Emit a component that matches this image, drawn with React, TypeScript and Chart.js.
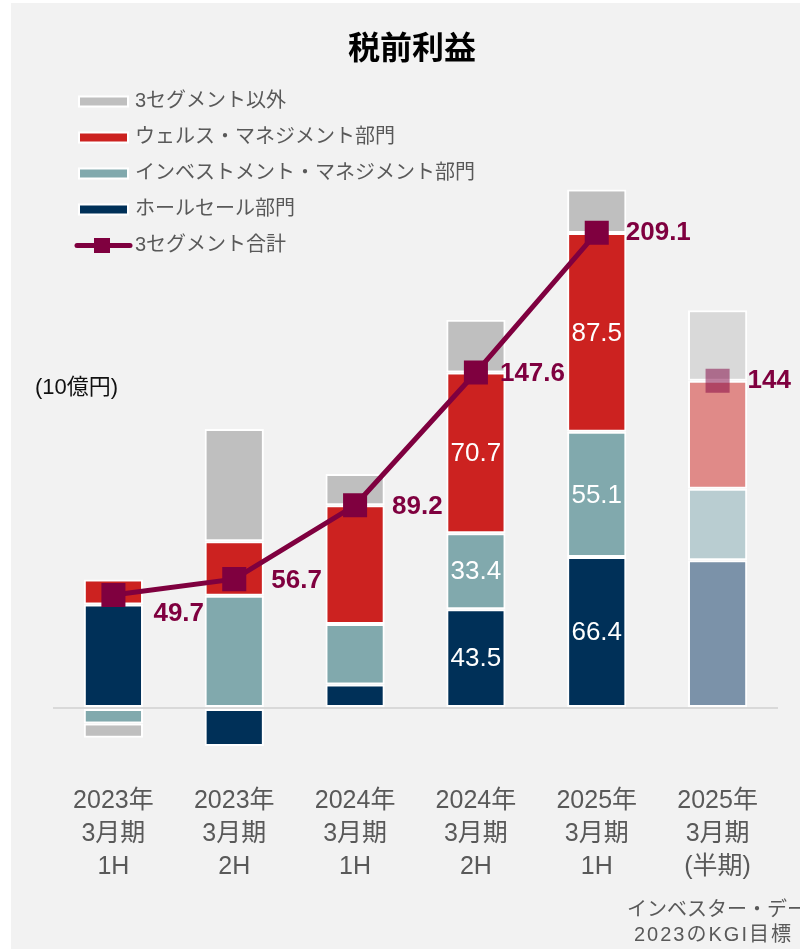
import React, { useEffect, useRef } from "react";
import { Chart, registerables } from "chart.js";

Chart.register(...registerables);

// ---- data ----
const categories: string[][] = [
  ["2023年", "3月期", "1H"],
  ["2023年", "3月期", "2H"],
  ["2024年", "3月期", "1H"],
  ["2024年", "3月期", "2H"],
  ["2025年", "3月期", "1H"],
  ["2025年", "3月期", "(半期)"],
];
const wholesale = [45.5, -16.7, 10.3, 43.5, 66.4, 65.0];
const investment = [-6.8, 49.4, 26.7, 33.4, 55.1, 31.5];
const wealth = [11.0, 24.0, 52.2, 70.7, 87.5, 47.5];
const others = [-6.3, 49.3, 13.8, 23.2, 19.1, 31.0];
const segmentTotal = [49.7, 56.7, 89.2, 147.6, 209.1, 144];
const totalLabels = ["49.7", "56.7", "89.2", "147.6", "209.1", "144"];
const innerLabelIndex = [3, 4];

const seriesNames = {
  wholesale: "ホールセール部門",
  investment: "インベストメント・マネジメント部門",
  wealth: "ウェルス・マネジメント部門",
  others: "3セグメント以外",
  total: "3セグメント合計",
};

const FONT = '"Liberation Sans", "Noto Sans CJK JP", sans-serif';
const LINE_COLOR = "#7f003f";
const LABEL_GRAY = "#595959";

const colors = {
  wholesale: ["#003058", "#7b92a9"],
  investment: ["#81a9ad", "#b9cdd1"],
  wealth: ["#cc2220", "#e08a88"],
  others: ["#bfbfbf", "#d9d9d9"],
};
const forecastIndex = 5;
const colorArr = (pair: string[]) =>
  categories.map((_, i) => (i === forecastIndex ? pair[1] : pair[0]));

const totalLabelOffsets = [
  [40, 19],
  [37, 2],
  [37, 2],
  [24, 1],
  [29, 0],
  [30, 0],
];

const decorPlugin = {
  id: "decor",
  beforeDraw(chart: any) {
    const { ctx, width, height } = chart;
    ctx.save();
    ctx.fillStyle = "#ffffff";
    ctx.fillRect(0, 0, width, height);
    ctx.fillStyle = "#f2f2f2";
    ctx.fillRect(11, 3, width - 11, height - 3);
    ctx.restore();
  },
  afterDraw(chart: any) {
    const { ctx } = chart;
    ctx.save();

    // Title
    ctx.fillStyle = "#000000";
    ctx.font = `bold 32px ${FONT}`;
    ctx.textAlign = "center";
    ctx.textBaseline = "middle";
    ctx.fillText("税前利益", 412, 50);

    // Unit
    ctx.font = `22px ${FONT}`;
    ctx.textAlign = "left";
    ctx.fillStyle = "#111111";
    ctx.fillText("(10億円)", 35, 388);

    // Legend
    const legendOrder = [3, 2, 1, 0, 4];
    ctx.font = `20px ${FONT}`;
    legendOrder.forEach((di, row) => {
      const ds = chart.data.datasets[di];
      const cy = 101.5 + row * 36;
      if (ds.type === "line") {
        ctx.strokeStyle = LINE_COLOR;
        ctx.lineWidth = 5;
        ctx.lineCap = "round";
        ctx.beginPath();
        ctx.moveTo(77, cy);
        ctx.lineTo(130, cy);
        ctx.stroke();
        ctx.fillStyle = LINE_COLOR;
        ctx.fillRect(102 - 8, cy - 7.5, 16, 15);
      } else {
        ctx.fillStyle = "#ffffff";
        ctx.fillRect(78, cy - 6, 51, 12);
        ctx.fillStyle = ds.backgroundColor[0];
        ctx.fillRect(80, cy - 4, 47, 8);
      }
      ctx.fillStyle = LABEL_GRAY;
      ctx.textAlign = "left";
      ctx.textBaseline = "middle";
      ctx.fillText(ds.label, 135, cy);
    });

    // Inner bar labels
    ctx.font = `26px ${FONT}`;
    ctx.fillStyle = "#ffffff";
    ctx.textAlign = "center";
    ctx.textBaseline = "middle";
    chart.data.datasets.forEach((ds: any, di: number) => {
      if (ds.type !== "bar" || ds.noInner) return;
      const meta = chart.getDatasetMeta(di);
      innerLabelIndex.forEach((i) => {
        const el = meta.data[i];
        if (!el) return;
        const p = el.getProps(["x", "y", "base"], true);
        ctx.fillText(Number(ds.data[i]).toFixed(1), p.x, (p.y + p.base) / 2 + 1);
      });
    });

    // Total labels
    const lineIdx = chart.data.datasets.findIndex((d: any) => d.type === "line");
    const lmeta = chart.getDatasetMeta(lineIdx);
    ctx.font = `bold 26px ${FONT}`;
    ctx.fillStyle = LINE_COLOR;
    ctx.textAlign = "left";
    ctx.textBaseline = "middle";
    lmeta.data.forEach((pt: any, i: number) => {
      const [dx, dy] = totalLabelOffsets[i];
      ctx.fillText(totalLabels[i], pt.x + dx, pt.y + dy);
    });

    // Source note (cut at right edge)
    ctx.font = `20px ${FONT}`;
    ctx.fillStyle = LABEL_GRAY;
    ctx.fillText("インベスター・デー", 627, 910);
    (ctx as any).letterSpacing = "2px";
    ctx.fillText("2023のKGI目標", 634, 935);
    (ctx as any).letterSpacing = "0px";

    ctx.restore();
  },
};

export default function App() {
  const ref = useRef<HTMLCanvasElement | null>(null);

  useEffect(() => {
    if (!ref.current) return;
    const barCommon = {
      type: "bar" as const,
      stack: "seg",
      borderColor: "#ffffff",
      borderWidth: 2,
      borderSkipped: false,
      barPercentage: 0.49,
      categoryPercentage: 1.0,
      order: 1,
    };
    const chart = new Chart(ref.current, {
      type: "bar",
      data: {
        labels: categories,
        datasets: [
          { ...barCommon, label: seriesNames.wholesale, data: wholesale, backgroundColor: colorArr(colors.wholesale) },
          { ...barCommon, label: seriesNames.investment, data: investment, backgroundColor: colorArr(colors.investment) },
          { ...barCommon, label: seriesNames.wealth, data: wealth, backgroundColor: colorArr(colors.wealth) },
          { ...barCommon, label: seriesNames.others, data: others, backgroundColor: colorArr(colors.others), noInner: true },
          {
            type: "line" as const,
            label: seriesNames.total,
            data: segmentTotal,
            stack: "total",
            borderColor: LINE_COLOR,
            borderWidth: 5,
            tension: 0,
            pointStyle: "rect",
            pointRadius: 17,
            pointHoverRadius: 17,
            pointBorderWidth: 0,
            pointBackgroundColor: categories.map((_, i) =>
              i === forecastIndex ? "rgba(127,0,63,0.5)" : LINE_COLOR
            ),
            segment: {
              borderColor: (c: any) => (c.p1DataIndex === forecastIndex ? "rgba(0,0,0,0)" : LINE_COLOR),
            },
            order: 0,
          } as any,
        ],
      },
      options: {
        responsive: false,
        animation: false,
        devicePixelRatio: 1,
        layout: { padding: { top: 185.2, left: 53, right: 22, bottom: 34.5 } },
        plugins: {
          legend: { display: false },
          title: { display: false },
          tooltip: { enabled: false },
        },
        scales: {
          x: {
            stacked: true,
            grid: { display: false, drawTicks: false },
            border: { display: false },
            ticks: {
              color: LABEL_GRAY,
              font: { family: FONT, size: 25, lineHeight: 1.32 },
              padding: 31,
              maxRotation: 0,
              autoSkip: false,
            },
          },
          y: {
            stacked: true,
            min: -20,
            max: 230,
            grid: {
              drawTicks: false,
              lineWidth: 2,
              color: (c: any) => (c.tick && c.tick.value === 0 ? "#d9d9d9" : "rgba(0,0,0,0)"),
            },
            border: { display: false },
            ticks: { display: false, stepSize: 10 },
          },
        },
      },
      plugins: [decorPlugin],
    } as any);
    return () => chart.destroy();
  }, []);

  return (
    <div style={{ position: "absolute", left: 0, top: 0, width: 800, height: 949 }}>
      <canvas ref={ref} width={800} height={949} style={{ width: 800, height: 949, display: "block" }} />
    </div>
  );
}
